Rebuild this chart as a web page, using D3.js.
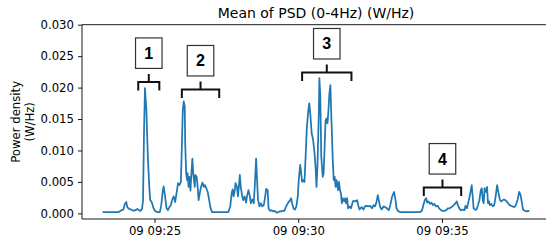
<html>

<head>
    <style>
        body {
            margin: 0;
            background-color: #ffffff;
        }

        svg {
            display: block;
            font-family: "DejaVu Sans", sans-serif;
        }
    </style>

    <script src="https://cdn.jsdelivr.net/npm/d3@7"></script>
</head>

<body>
    <svg id="Grafico"></svg>

<script>
    // segundos desde las 09:23:00 del dia 09 y valor medio de la PSD (W/Hz)
    let segundos = [13, 31, 45, 51, 55, 58, 61, 63, 67, 71, 76, 80, 84, 87, 91, 94, 96, 98, 100, 103,
        106, 109, 111, 114, 118, 122, 127, 131, 134, 137, 139, 142, 145, 148, 151, 154, 157, 160, 163, 166,
        169, 172, 175, 177, 179, 181, 183, 184, 186, 188, 189, 191, 193, 195, 197, 199, 201, 204, 205, 208,
        210, 212, 215, 217, 220, 223, 225, 228, 231, 234, 237, 240, 274, 278, 281, 283, 285, 287, 289, 292,
        294, 296, 298, 300, 303, 305, 308, 311, 313, 316, 319, 321, 324, 327, 329, 332, 334, 336, 339, 342,
        345, 348, 351, 353, 356, 358, 361, 364, 367, 371, 375, 378, 381, 384, 387, 391, 394, 399, 403, 405,
        407, 410, 413, 416, 419, 421, 424, 426, 428, 431, 433, 435, 438, 441, 443, 445, 448, 451, 454, 456,
        458, 460, 463, 464, 466, 468, 471, 473, 475, 477, 479, 481, 483, 485, 487, 489, 492, 494, 496, 498,
        500, 503, 505, 507, 509, 511, 513, 516, 518, 520, 522, 524, 527, 530, 534, 537, 540, 543, 545, 548,
        552, 556, 559, 563, 567, 570, 574, 577, 580, 583, 586, 588, 591, 594, 598, 601, 605, 609, 612, 616,
        620, 623, 625, 629, 634, 674, 678, 681, 684, 687, 689, 692, 695, 698, 701, 704, 707, 711, 714, 718,
        721, 725, 729, 732, 736, 740, 743, 747, 751, 753, 756, 759, 763, 767, 769, 772, 776, 779, 782, 784,
        786, 789, 792, 795, 798, 801, 803, 805, 807, 809, 812, 814, 816, 818, 820, 823, 826, 829, 832, 835,
        838, 841, 844, 847, 849, 852, 855, 858, 861, 864, 867, 871, 874, 878, 881, 884, 887, 889, 893, 897,
        901];

    let densidad = [0.0002, 0.0002, 0.0002, 0.0005, 0.0006, 0.0015, 0.0018, 0.0010, 0.0007, 0.0006,
        0.0004, 0.0005, 0.0007, 0.0005, 0.0004, 0.0007, 0.0021, 0.0127, 0.0199, 0.0164,
        0.0090, 0.0042, 0.0021, 0.0018, 0.0008, 0.0003, 0.0002, 0.0002, 0.0013, 0.0034,
        0.0043, 0.0027, 0.0008, 0.0005, 0.0010, 0.0013, 0.0022, 0.0027, 0.0018, 0.0032,
        0.0048, 0.0045, 0.0050, 0.0106, 0.0164, 0.0178, 0.0170, 0.0111, 0.0064, 0.0053,
        0.0064, 0.0042, 0.0058, 0.0036, 0.0064, 0.0087, 0.0061, 0.0042, 0.0061, 0.0058,
        0.0042, 0.0021, 0.0034, 0.0042, 0.0049, 0.0042, 0.0045, 0.0040, 0.0034, 0.0021,
        0.0008, 0.0002, 0.0002, 0.0011, 0.0032, 0.0038, 0.0027, 0.0034, 0.0048, 0.0042,
        0.0027, 0.0042, 0.0061, 0.0042, 0.0027, 0.0021, 0.0027, 0.0017, 0.0027, 0.0037,
        0.0027, 0.0016, 0.0022, 0.0016, 0.0040, 0.0087, 0.0053, 0.0021, 0.0011, 0.0016,
        0.0011, 0.0013, 0.0027, 0.0039, 0.0037, 0.0008, 0.0004, 0.0005, 0.0003, 0.0004,
        0.0001, 0.0002, 0.0003, 0.0003, 0.0004, 0.0004, 0.0010, 0.0017, 0.0021, 0.0024,
        0.0016, 0.0008, 0.0006, 0.0011, 0.0027, 0.0053, 0.0077, 0.0064, 0.0050, 0.0053,
        0.0050, 0.0085, 0.0138, 0.0164, 0.0175, 0.0159, 0.0127, 0.0117, 0.0095, 0.0074,
        0.0042, 0.0074, 0.0164, 0.0215, 0.0186, 0.0090, 0.0058, 0.0064, 0.0106, 0.0148,
        0.0151, 0.0143, 0.0164, 0.0191, 0.0204, 0.0154, 0.0085, 0.0053, 0.0058, 0.0042,
        0.0053, 0.0037, 0.0050, 0.0037, 0.0032, 0.0016, 0.0024, 0.0019, 0.0024, 0.0016,
        0.0024, 0.0008, 0.0011, 0.0008, 0.0019, 0.0020, 0.0019, 0.0021, 0.0013, 0.0006,
        0.0010, 0.0006, 0.0011, 0.0012, 0.0011, 0.0012, 0.0008, 0.0013, 0.0011, 0.0017,
        0.0029, 0.0021, 0.0010, 0.0006, 0.0011, 0.0010, 0.0008, 0.0005, 0.0013, 0.0027,
        0.0034, 0.0021, 0.0008, 0.0003, 0.0002, 0.0002, 0.0004, 0.0013, 0.0021, 0.0024,
        0.0017, 0.0019, 0.0015, 0.0017, 0.0013, 0.0015, 0.0011, 0.0012, 0.0008, 0.0005,
        0.0004, 0.0004, 0.0005, 0.0008, 0.0008, 0.0010, 0.0012, 0.0015, 0.0019, 0.0013,
        0.0008, 0.0005, 0.0006, 0.0005, 0.0012, 0.0008, 0.0021, 0.0032, 0.0045, 0.0027,
        0.0008, 0.0006, 0.0006, 0.0013, 0.0021, 0.0037, 0.0040, 0.0021, 0.0016, 0.0040,
        0.0034, 0.0042, 0.0016, 0.0019, 0.0013, 0.0015, 0.0011, 0.0013, 0.0027, 0.0045,
        0.0032, 0.0021, 0.0019, 0.0021, 0.0022, 0.0021, 0.0019, 0.0016, 0.0013, 0.0012,
        0.0011, 0.0010, 0.0013, 0.0022, 0.0034, 0.0029, 0.0016, 0.0006, 0.0004, 0.0003,
        0.0004];

    let marcasY = [0, 0.005, 0.010, 0.015, 0.020, 0.025, 0.030];
    let marcasX = ["09:25", "09:30", "09:35"];

    // tramos marcados con corchete y recuadro numerado (en segundos desde 09:23:00)
    let etiquetasTramos = ["1", "2", "3", "4"];
    let inicioTramos = [86, 177, 428, 682];
    let finTramos = [130, 255, 531, 760];
    let nivelTramos = [0.0209, 0.0197, 0.0224, 0.0041];

    let origen = Date.UTC(2020, 0, 9, 9, 23, 0);
    let aFecha = s => new Date(origen + s * 1000);

    function configuracionGrafico () {
        let ancho = 546;
        let alto = 242;
        // el eje derecho queda fuera de la imagen, igual que en la original
        let margenes = { top: 24.7, bottom: 219, left: 82, right: 550 };

        let contenedor = d3.select("#Grafico")
            .attr("width", ancho)
            .attr("height", alto);

        return { ancho, alto, margenes, contenedor };
    }

    function escalasGrafico (configuracion) {
        let { margenes } = configuracion;
        let t0 = aFecha(d3.min(segundos));
        let t1 = aFecha(d3.max(segundos));
        let holgura = (t1 - t0) * 0.05;

        let escalaX = d3.scaleUtc()
            .domain([new Date(+t0 - holgura), new Date(+t1 + holgura)])
            .range([margenes.left, margenes.right]);

        let escalaY = d3.scaleLinear()
            .domain([-0.0009, 0.030])
            .range([margenes.bottom, margenes.top]);

        return { escalaX, escalaY };
    }

    function dibujarEjes (escalas, configuracion) {
        let { escalaX, escalaY } = escalas;
        let { contenedor, margenes } = configuracion;

        let valoresX = marcasX.map(m => {
            let [h, mi] = m.split(":").map(Number);
            return new Date(Date.UTC(2020, 0, 9, h, mi, 0));
        });

        let ejeX = d3.axisBottom(escalaX)
            .tickValues(valoresX)
            .tickFormat(d3.utcFormat("%d %H:%M"))
            .tickSizeInner(4).tickSizeOuter(0).tickPadding(4);

        let gX = contenedor.append("g")
            .attr("transform", `translate(0,${margenes.bottom})`)
            .call(ejeX);

        let ejeY = d3.axisLeft(escalaY)
            .tickValues(marcasY)
            .tickFormat(d3.format(".3f"))
            .tickSizeInner(4).tickSizeOuter(0).tickPadding(4);

        let gY = contenedor.append("g")
            .attr("transform", `translate(${margenes.left},0)`)
            .call(ejeY);

        [gX, gY].forEach(g => {
            g.select(".domain").remove();
            g.selectAll("line").attr("stroke", "#000").attr("stroke-width", 0.9);
            g.selectAll("text").attr("fill", "#000")
                .style("font-family", "'DejaVu Sans', sans-serif")
                .style("font-size", "11.7px");
        });

        // marco: izquierda, arriba y abajo (el derecho cae fuera)
        let marco = contenedor.append("g")
            .attr("stroke", "#000")
            .attr("stroke-width", 0.9)
            .attr("fill", "none");
        marco.append("line")
            .attr("x1", margenes.left).attr("x2", margenes.left)
            .attr("y1", margenes.top).attr("y2", margenes.bottom);
        marco.append("line")
            .attr("x1", margenes.left).attr("x2", margenes.right)
            .attr("y1", margenes.top).attr("y2", margenes.top);
        marco.append("line")
            .attr("x1", margenes.left).attr("x2", margenes.right)
            .attr("y1", margenes.bottom).attr("y2", margenes.bottom);

        // titulo y etiqueta del eje y
        contenedor.append("text")
            .attr("x", (margenes.left + margenes.right) / 2)
            .attr("y", 18)
            .attr("text-anchor", "middle")
            .style("font-size", "14px")
            .text("Mean of PSD (0-4Hz) (W/Hz)");

        let etiquetaY = contenedor.append("text")
            .attr("transform", `translate(20,${(margenes.top + margenes.bottom) / 2}) rotate(-90)`)
            .attr("text-anchor", "middle")
            .style("font-size", "11.7px");
        etiquetaY.append("tspan").attr("x", 0).attr("dy", 0).text("Power density");
        etiquetaY.append("tspan").attr("x", 0).attr("dy", 14).text("(W/Hz)");
    }

    function dibujarSerie (escalas, configuracion) {
        let { escalaX, escalaY } = escalas;
        let { contenedor } = configuracion;

        let puntos = segundos.map((s, i) => ({ fecha: aFecha(s), valor: densidad[i] }));

        let linea = d3.line()
            .x(d => escalaX(d.fecha))
            .y(d => escalaY(d.valor));

        contenedor.append("path")
            .datum(puntos)
            .attr("d", linea)
            .attr("fill", "none")
            .attr("stroke", "#1f77b4")
            .attr("stroke-width", 1.75)
            .attr("stroke-linejoin", "round")
            .attr("stroke-linecap", "round");
    }

    function dibujarTramos (escalas, configuracion) {
        let { escalaX, escalaY } = escalas;
        let { contenedor } = configuracion;
        let pata = 8.5, tallo = 8, hueco = 5.5, anchoCaja = 26.5, altoCaja = 30.5;

        let tramos = etiquetasTramos.map((e, i) => ({
            etiqueta: e,
            x0: escalaX(aFecha(inicioTramos[i])),
            x1: escalaX(aFecha(finTramos[i])),
            y: escalaY(nivelTramos[i])
        }));

        let grupos = contenedor.selectAll(".tramo")
            .data(tramos)
            .enter().append("g")
                .attr("class", "tramo");

        // corchete
        grupos.append("path")
            .attr("d", d => {
                let xm = (d.x0 + d.x1) / 2;
                return `M${d.x0},${d.y + pata}V${d.y}H${d.x1}V${d.y + pata}M${xm},${d.y}V${d.y - tallo}`;
            })
            .attr("fill", "none")
            .attr("stroke", "#111")
            .attr("stroke-width", 2);

        // recuadro con el numero
        grupos.append("rect")
            .attr("x", d => (d.x0 + d.x1) / 2 - anchoCaja / 2)
            .attr("y", d => d.y - tallo - hueco - altoCaja)
            .attr("width", anchoCaja)
            .attr("height", altoCaja)
            .attr("fill", "#fff")
            .attr("stroke", "#333")
            .attr("stroke-width", 1.2);

        grupos.append("text")
            .attr("x", d => (d.x0 + d.x1) / 2)
            .attr("y", d => d.y - tallo - hueco - altoCaja / 2)
            .attr("dy", "0.36em")
            .attr("text-anchor", "middle")
            .style("font-family", "'Liberation Sans', Arial, sans-serif")
            .style("font-weight", "bold")
            .style("font-size", "16px")
            .text(d => d.etiqueta);
    }

    function dibujarGrafico () {
        let configuracion = configuracionGrafico();
        let escalas = escalasGrafico(configuracion);
        dibujarEjes(escalas, configuracion);
        dibujarSerie(escalas, configuracion);
        dibujarTramos(escalas, configuracion);
    }

    dibujarGrafico();
</script>
</body>
</html>
